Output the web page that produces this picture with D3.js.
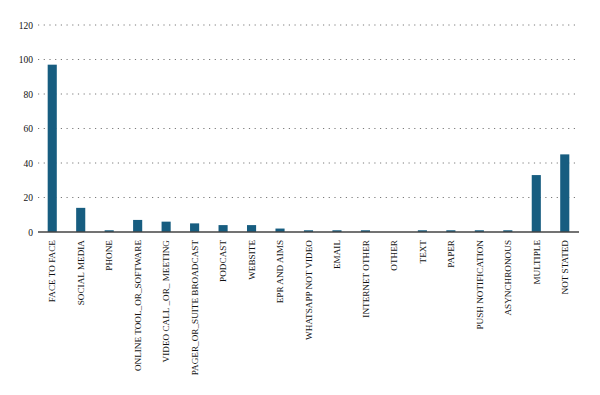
<!DOCTYPE html>
<html>
<head>
<meta charset="utf-8">
<script src="https://cdn.jsdelivr.net/npm/d3@7"></script>
<style>
body { margin: 0; background: #fff; }
svg { display: block; }
svg text { font-family: "Liberation Serif", "Times New Roman", serif; }
</style>
</head>
<body>
<svg id="chart" width="600" height="395"></svg>
<script>
const categories = ["FACE TO FACE", "SOCIAL MEDIA", "PHONE", "ONLINE TOOL_OR_SOFTWARE", "VIDEO CALL _OR_ MEETING",
  "PAGER_OR_SUITE BROADCAST", "PODCAST", "WEBSITE", "EPR AND AIMS", "WHATSAPP NOT VIDEO", "EMAIL",
  "INTERNET OTHER", "OTHER", "TEXT", "PAPER", "PUSH NOTIFICATION", "ASYNCHRONOUS", "MULTIPLE", "NOT STATED"];
const values = [97, 14, 1, 7, 6, 5, 4, 4, 2, 1, 1, 1, 0, 1, 1, 1, 1, 33, 45];
const yTicks = [0, 20, 40, 60, 80, 100, 120];

const svg = d3.select("#chart");
const margin = { left: 38, right: 21, top: 25, bottom: 163 };
const W = 600, H = 395;
const font = "Liberation Serif, Times New Roman, serif";

const x = d3.scaleBand().domain(categories).range([margin.left, W - margin.right]).paddingInner(0.68).paddingOuter(0.34);
const y = d3.scaleLinear().domain([0, 120]).range([232, 25]);

// gridlines
svg.append("g").selectAll("line").data(yTicks.filter(d => d > 0)).join("line")
  .attr("x1", margin.left).attr("x2", W - margin.right)
  .attr("y1", d => y(d)).attr("y2", d => y(d))
  .attr("stroke", "#7a7a7a").attr("stroke-width", 1)
  .attr("stroke-dasharray", "1.2,4.5");

// y axis labels
const yAxis = d3.axisLeft(y).tickValues(yTicks).tickSize(0).tickPadding(5).tickFormat(d3.format("d"));
const yg = svg.append("g").attr("transform", `translate(${margin.left},0)`).call(yAxis)
  .attr("font-family", font);
yg.select(".domain").remove();
yg.selectAll("text").attr("font-size", 9.5).attr("fill", "#111");

// bars
svg.append("g").selectAll("rect").data(values).join("rect")
  .attr("x", (d, i) => x(categories[i]))
  .attr("width", x.bandwidth())
  .attr("y", d => y(d))
  .attr("height", d => y(0) - y(d))
  .attr("fill", "#175d80");

// x axis
const xAxis = d3.axisBottom(x).tickSize(0).tickPadding(0);
const xg = svg.append("g").attr("transform", `translate(0,${y(0)})`).call(xAxis)
  .attr("font-family", font);
xg.select(".domain").attr("stroke", "#444").attr("stroke-width", 1.3)
  .attr("d", `M${margin.left},0H${W - margin.right}`);
xg.selectAll("text")
  .attr("font-size", 9.2).attr("fill", "#111")
  .attr("text-anchor", "end")
  .attr("dy", "0.35em")
  .attr("transform", "translate(0,8) rotate(-90)")
  .attr("x", 0).attr("y", 0);
</script>
</body>
</html>
